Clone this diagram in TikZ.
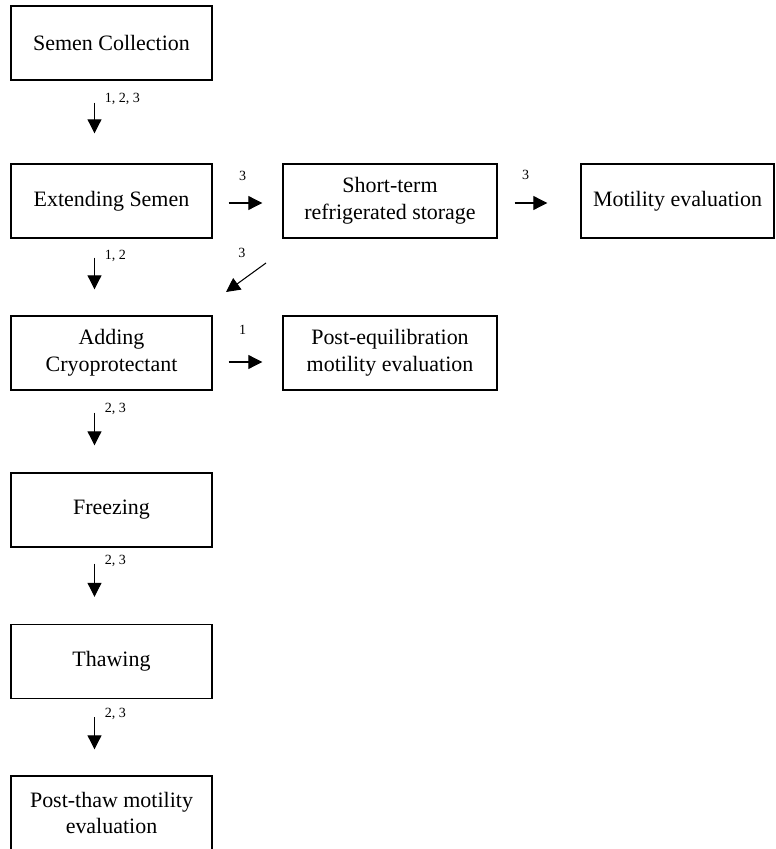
\documentclass[tikz,border=0pt]{standalone}
\usepackage{fontspec}
\setmainfont{Liberation Serif}
\usepackage{tikz}
\usetikzlibrary{calc}
\usetikzlibrary{arrows.meta}

\begin{document}
\begin{tikzpicture}[
  stagebox/.style={draw, line width=0.8pt, rectangle, minimum width=4.02cm, minimum height=1.48cm, align=center, inner sep=0pt, font=\fontsize{12.5}{15.3}\selectfont},
  flow/.style={line width=0.6pt, -{Triangle[length=0.28cm, width=0.28cm]}},
  numlab/.style={inner sep=0pt, font=\fontsize{8}{9.6}\selectfont}
]

\useasboundingbox (0, 0) rectangle (15.5, -16.98);

\node[stagebox] (collect) at (2.23, -0.86) {Semen Collection};
\node[stagebox] (extend) at (2.23, -4.02) {Extending Semen};
\node[stagebox] (cryo) at (2.23, -7.06) {Adding\\Cryoprotectant};
\node[stagebox] (freeze) at (2.23, -10.2) {Freezing};
\node[stagebox] (thaw) at (2.23, -13.23) {Thawing};
\node[stagebox] (postthaw) at (2.23, -16.26) {Post-thaw motility\\evaluation};
\node[stagebox, minimum width=4.28cm] (store) at (7.8, -4.02) {Short-term\\refrigerated storage};
\node[stagebox, minimum width=3.86cm] (motility) at (13.55, -4.02) {Motility evaluation};
\node[stagebox, minimum width=4.28cm] (posteq) at (7.8, -7.06) {Post-equilibration\\motility evaluation};

\coordinate (v1) at ($(collect.south) + (-0.34, -0.44)$);
\coordinate (v2) at ($(extend.south) + (-0.34, -0.38)$);
\coordinate (v3) at ($(cryo.south) + (-0.34, -0.44)$);
\coordinate (v4) at ($(freeze.south) + (-0.34, -0.32)$);
\coordinate (v5) at ($(thaw.south) + (-0.34, -0.36)$);
\coordinate (h1) at ($(extend.east) + (0.32, -0.04)$);
\coordinate (h2) at ($(store.east) + (0.34, -0.04)$);
\coordinate (h3) at ($(cryo.east) + (0.32, -0.18)$);
\coordinate (d1) at (5.32, -5.26);
\coordinate (d2) at (4.52, -5.84);

\draw[flow, shorten >=0.6cm] (v1) -- ([xshift=-0.34cm]extend.north);
\draw[flow, shorten >=0.52cm] (v2) -- ([xshift=-0.34cm]cryo.north);
\draw[flow, shorten >=0.54cm] (v3) -- ([xshift=-0.34cm]freeze.north);
\draw[flow, shorten >=0.54cm] (v4) -- ([xshift=-0.34cm]thaw.north);
\draw[flow, shorten >=0.52cm] (v5) -- ([xshift=-0.34cm]postthaw.north);
\draw[flow, shorten >=0.4cm] (h1) -- (h1 -| store.west);
\draw[flow, shorten >=0.66cm] (h2) -- (h2 -| motility.west);
\draw[flow, shorten >=0.4cm] (h3) -- (h3 -| posteq.west);
\draw[flow] (d1) -- (d2);

\node[numlab, anchor=west] (lab1) at ($(v1) + (0.2, 0.08)$) {1, 2, 3};
\node[numlab, anchor=west] (lab2) at ($(v2) + (0.2, 0.04)$) {1, 2};
\node[numlab, anchor=west] (lab3) at ($(v3) + (0.2, 0.08)$) {2, 3};
\node[numlab, anchor=west] (lab4) at ($(v4) + (0.2, 0.06)$) {2, 3};
\node[numlab, anchor=west] (lab5) at ($(v5) + (0.2, 0.06)$) {2, 3};
\node[numlab] (lab6) at ($(h1) + (0.28, 0.54)$) {3};
\node[numlab] (lab7) at ($(h2) + (0.22, 0.56)$) {3};
\node[numlab] (lab8) at ($(h3) + (0.28, 0.64)$) {1};
\node[numlab] (lab9) at (4.84, -5.06) {3};

\end{tikzpicture}
\end{document}
